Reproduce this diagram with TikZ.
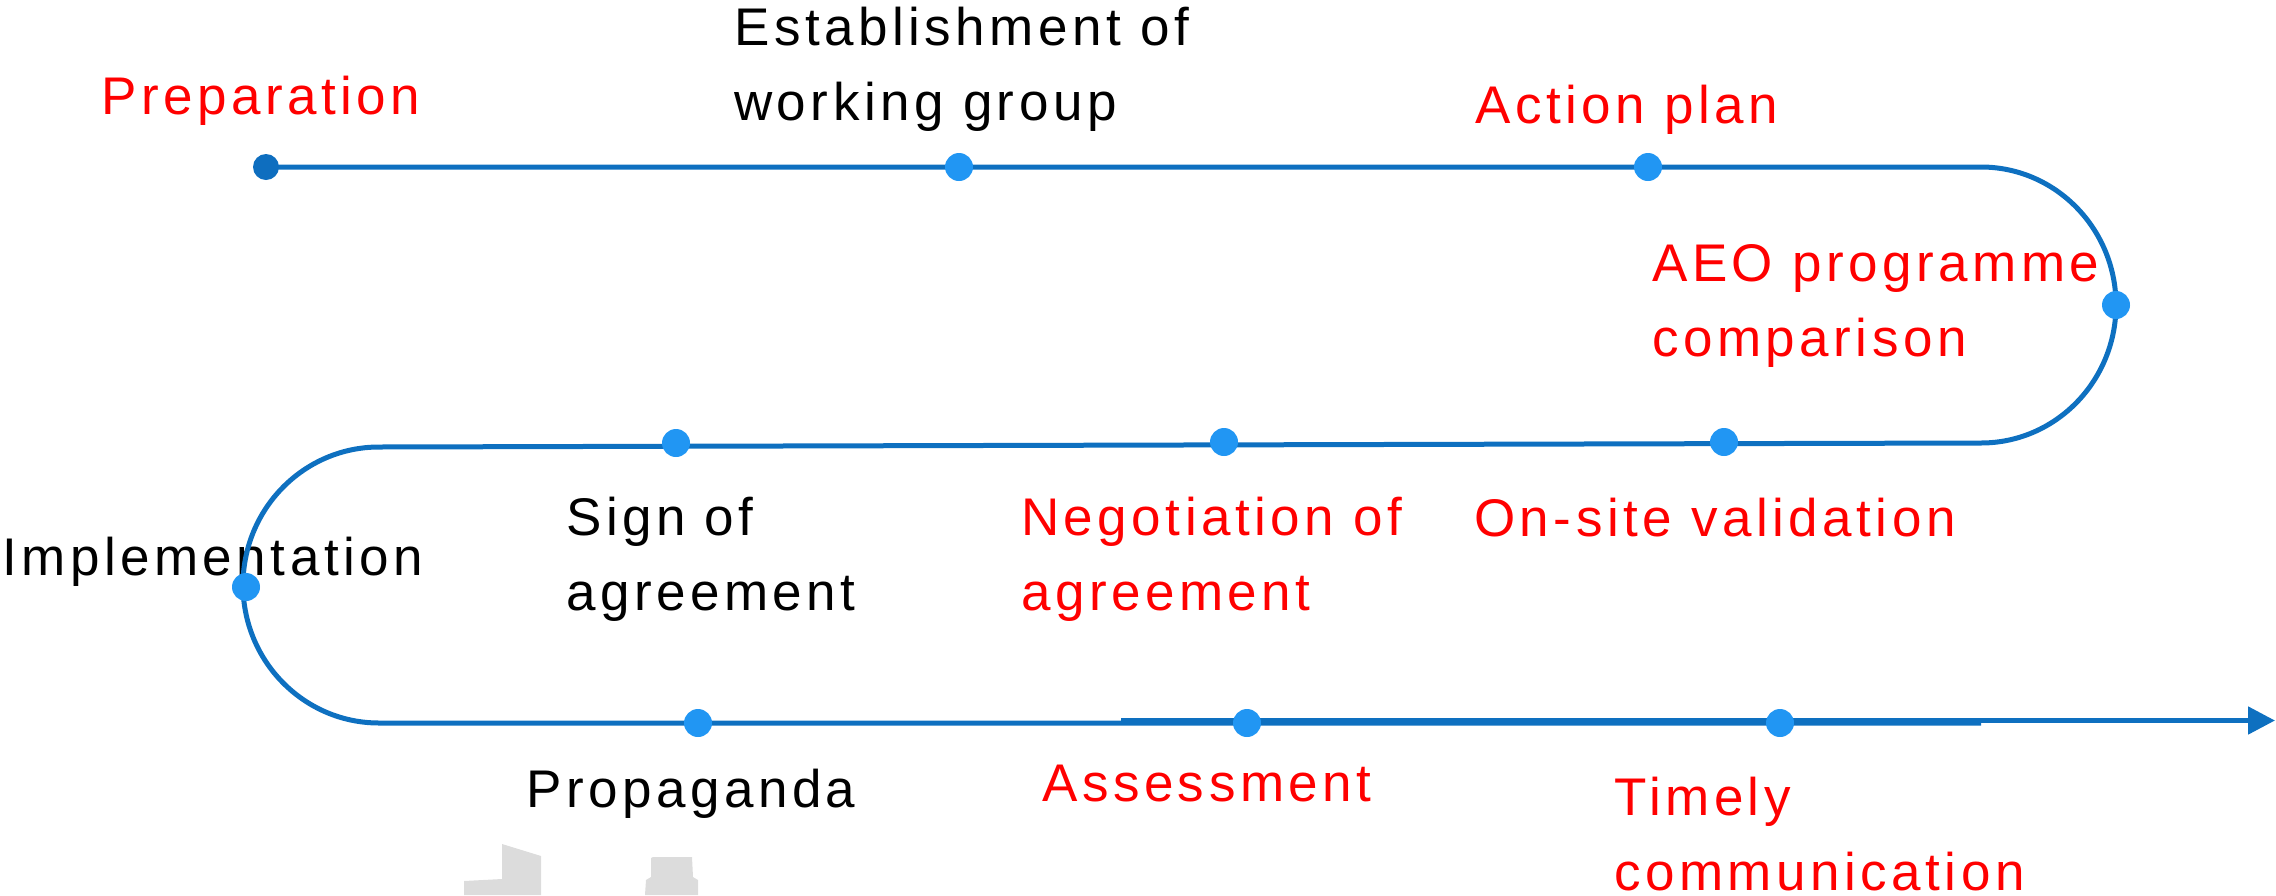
\documentclass[tikz,border=0pt]{standalone}
\usepackage{fontspec}
\setmainfont{Liberation Sans}[LetterSpace=8.5]
\usetikzlibrary{arrows.meta}
\definecolor{lineblue}{HTML}{0E70C0}
\definecolor{dotblue}{HTML}{2196F3}
\definecolor{darkdot}{HTML}{0E6EBF}
\definecolor{txtred}{HTML}{FF0000}
\definecolor{blobgrey}{HTML}{DCDCDC}
\begin{document}
\begin{tikzpicture}[x=1pt,y=-1pt,
  lbl/.style={anchor=base west,inner sep=0pt,font=\fontsize{53}{75}\selectfont},
  redlbl/.style={lbl,text=txtred},
  blklbl/.style={lbl,text=black},
  track/.style={draw=lineblue,line width=5pt},
  dot/.style={circle,fill=dotblue,minimum size=28pt,inner sep=0pt},
]
\useasboundingbox (0,0) rectangle (2276,895);

% labels
\node[redlbl] (tprep) at (101,114) {Preparation};
\node[blklbl] (testab) at (734,45) {\begin{tabular}[t]{@{}l@{}}Establishment of\\working group\end{tabular}};
\node[redlbl] (taction) at (1475,123) {Action plan};
\node[redlbl] (taeo) at (1652,281) {\begin{tabular}[t]{@{}l@{}}AEO programme\\comparison\end{tabular}};
\node[blklbl] (tsign) at (566,535) {\begin{tabular}[t]{@{}l@{}}Sign of\\agreement\end{tabular}};
\node[redlbl] (tnego) at (1021,535) {\begin{tabular}[t]{@{}l@{}}Negotiation of\\agreement\end{tabular}};
\node[redlbl] (tonsite) at (1474,536) {On-site validation};
\node[blklbl] (timpl) at (2,575) {Implementation};
\node[blklbl] (tprop) at (526,807) {Propaganda};
\node[redlbl] (tassess) at (1042,801) {Assessment};
\node[redlbl] (ttimely) at (1614,815) {\begin{tabular}[t]{@{}l@{}}Timely\\communication\end{tabular}};

% faint grey shapes at the bottom
\fill[blobgrey] (464,895) -- (464,881) -- (502,879) -- (502,844) -- (541,856) -- (541,895) -- cycle;
\fill[blobgrey] (645,895) -- (646,880) -- (651,877) -- (651,858) -- (653,857) -- (692,857) -- (693,877) -- (698,880) -- (698,895) -- cycle;

% track
\coordinate (p0) at (266,167);
\coordinate (p1) at (1981,167);
\coordinate (p3) at (379,447);
\coordinate (p5) at (1981,723);
\coordinate (a0) at (1121,720.5);
\coordinate (a1) at (2275,720.5);
\draw[track] (p0) -- (p1)
  arc[start angle=-90,end angle=90,x radius=135,y radius=138]
  -- (p3)
  arc[start angle=-90,end angle=-270,x radius=136,y radius=138]
  -- (p5);
\draw[track,-{Triangle[length=27pt,width=27pt]}] (a0) -- (a1);

% dots
\node[dot,fill=darkdot,minimum size=26pt] (d1) at (p0) {};
\node[dot] (d2) at (959,167) {};
\node[dot] (d3) at (1648,167) {};
\node[dot] (d4) at (2116,305) {};
\node[dot] (d5) at (1724,442) {};
\node[dot] (d6) at (1224,442) {};
\node[dot] (d7) at (676,443) {};
\node[dot] (d8) at (246,587) {};
\node[dot] (d9) at (698,723) {};
\node[dot] (d10) at (1247,723) {};
\node[dot] (d11) at (1780,723) {};
\end{tikzpicture}
\end{document}
